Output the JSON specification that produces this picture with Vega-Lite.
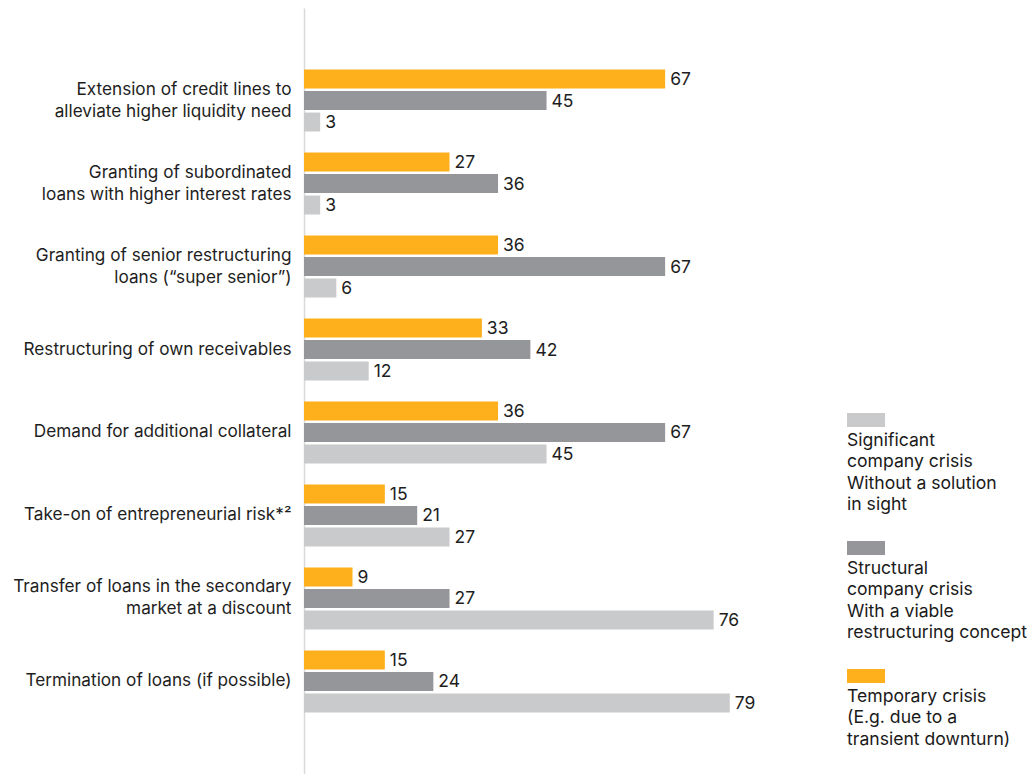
{
  "$schema": "https://vega.github.io/schema/vega-lite/v6.json",
  "padding": {"left": 0, "top": 8, "right": 0, "bottom": 0},
  "background": "white",
  "spacing": 0,
  "config": {"view": {"stroke": null}, "font": "Inter", "concat": {"spacing": 0}},
  "hconcat": [
    {
      "width": 539,
      "height": 766,
      "data": {
        "values": [
          {"measure": "Extension of credit lines to|alleviate higher liquidity need", "crisis": "Temporary", "value": 67},
          {"measure": "Extension of credit lines to|alleviate higher liquidity need", "crisis": "Structural", "value": 45},
          {"measure": "Extension of credit lines to|alleviate higher liquidity need", "crisis": "Significant", "value": 3},
          {"measure": "Granting of subordinated|loans with higher interest rates", "crisis": "Temporary", "value": 27},
          {"measure": "Granting of subordinated|loans with higher interest rates", "crisis": "Structural", "value": 36},
          {"measure": "Granting of subordinated|loans with higher interest rates", "crisis": "Significant", "value": 3},
          {"measure": "Granting of senior restructuring|loans (“super senior”)", "crisis": "Temporary", "value": 36},
          {"measure": "Granting of senior restructuring|loans (“super senior”)", "crisis": "Structural", "value": 67},
          {"measure": "Granting of senior restructuring|loans (“super senior”)", "crisis": "Significant", "value": 6},
          {"measure": "Restructuring of own receivables", "crisis": "Temporary", "value": 33},
          {"measure": "Restructuring of own receivables", "crisis": "Structural", "value": 42},
          {"measure": "Restructuring of own receivables", "crisis": "Significant", "value": 12},
          {"measure": "Demand for additional collateral", "crisis": "Temporary", "value": 36},
          {"measure": "Demand for additional collateral", "crisis": "Structural", "value": 67},
          {"measure": "Demand for additional collateral", "crisis": "Significant", "value": 45},
          {"measure": "Take-on of entrepreneurial risk*²", "crisis": "Temporary", "value": 15},
          {"measure": "Take-on of entrepreneurial risk*²", "crisis": "Structural", "value": 21},
          {"measure": "Take-on of entrepreneurial risk*²", "crisis": "Significant", "value": 27},
          {"measure": "Transfer of loans in the secondary|market at a discount", "crisis": "Temporary", "value": 9},
          {"measure": "Transfer of loans in the secondary|market at a discount", "crisis": "Structural", "value": 27},
          {"measure": "Transfer of loans in the secondary|market at a discount", "crisis": "Significant", "value": 76},
          {"measure": "Termination of loans (if possible)", "crisis": "Temporary", "value": 15},
          {"measure": "Termination of loans (if possible)", "crisis": "Structural", "value": 24},
          {"measure": "Termination of loans (if possible)", "crisis": "Significant", "value": 79}
        ]
      },
      "encoding": {
        "y": {
          "field": "measure",
          "type": "nominal",
          "sort": null,
          "scale": {"paddingInner": 0.253, "paddingOuter": 0.741},
          "axis": {
            "title": null,
            "domain": true,
            "domainColor": "#d9d9d9",
            "domainWidth": 1.5,
            "ticks": false,
            "grid": false,
            "labelPadding": 13,
            "labelFontSize": 17.2,
            "labelColor": "#1e1e1e",
            "labelLineHeight": 22,
            "labelLimit": 400,
            "labelExpr": "split(datum.label, '|')",
            "labelOffset": {"condition": {"test": "indexof(datum.value, '|') >= 0", "value": -11}, "value": 0},
            "minExtent": 304,
            "maxExtent": 304
          }
        },
        "yOffset": {
          "field": "crisis",
          "type": "nominal",
          "sort": ["Temporary", "Structural", "Significant"],
          "scale": {"paddingInner": 0.12, "paddingOuter": 0}
        },
        "x": {
          "field": "value",
          "type": "quantitative",
          "scale": {"domain": [0, 100]},
          "axis": null
        }
      },
      "layer": [
        {
          "mark": {"type": "bar"},
          "encoding": {
            "color": {
              "field": "crisis",
              "type": "nominal",
              "scale": {
                "domain": ["Temporary", "Structural", "Significant"],
                "range": ["#FDB01B", "#959699", "#C9CACC"]
              },
              "legend": null
            }
          }
        },
        {
          "mark": {"type": "text", "align": "left", "baseline": "middle", "dx": 5, "dy": 1, "fontSize": 17.5, "color": "#1e1e1e"},
          "encoding": {"text": {"field": "value", "type": "quantitative"}}
        }
      ]
    },
    {
      "width": 46,
      "height": 766,
      "data": {
        "values": [
          {"crisis": "Significant", "order": 1, "text": "Significant|company crisis|Without a solution|in sight"},
          {"crisis": "Structural", "order": 2, "text": "Structural|company crisis|With a viable|restructuring concept"},
          {"crisis": "Temporary", "order": 3, "text": "Temporary crisis|(E.g. due to a|transient downturn)"}
        ]
      },
      "encoding": {
        "y": {
          "field": "order",
          "type": "quantitative",
          "scale": {"domain": [-2.219, 3.766], "reverse": true, "zero": false, "nice": false},
          "axis": null
        }
      },
      "layer": [
        {
          "mark": {"type": "point", "shape": "M-1,-0.368H1V0.368H-1Z", "size": 1444, "filled": true, "opacity": 1, "strokeWidth": 0},
          "encoding": {
            "color": {
              "field": "crisis",
              "type": "nominal",
              "scale": {
                "domain": ["Temporary", "Structural", "Significant"],
                "range": ["#FDB01B", "#959699", "#C9CACC"]
              },
              "legend": null
            }
          }
        },
        {
          "mark": {"type": "text", "align": "left", "baseline": "alphabetic", "dx": -19, "dy": 26, "fontSize": 17.6, "lineHeight": 21.3, "lineBreak": "|", "color": "#1a1a1a"},
          "encoding": {"text": {"field": "text", "type": "nominal"}}
        }
      ]
    }
  ]
}
